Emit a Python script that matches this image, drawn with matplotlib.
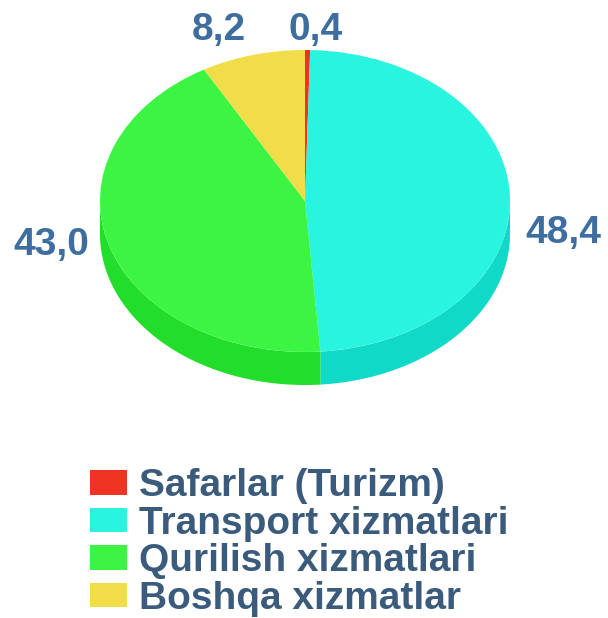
import matplotlib.pyplot as plt
import numpy as np

plt.rcParams['font.family'] = ['Liberation Sans', 'DejaVu Sans']

# data
categories = ['Safarlar (Turizm)', 'Transport xizmatlari',
              'Qurilish xizmatlari', 'Boshqa xizmatlar']
values = [0.4, 48.4, 43.0, 8.2]
value_labels = ['0,4', '48,4', '43,0', '8,2']

top_colors = ['#ee3322', '#28f4e0', '#3cf542', '#f0dd48']
side_colors = ['#c42a1c', '#10d9c8', '#22dd2a', '#cdbb30']

W, H = 608, 618
cx, cy = 305, 201      # pie center (px, from top)
rx, ry = 205, 151      # ellipse radii (px)
depth = 33 / ry        # side height in y units

fig = plt.figure(figsize=(W / 100, H / 100), dpi=100)
ax = fig.add_axes([0, 0, 1, 1])

wedges, _ = ax.pie(values, colors=top_colors, startangle=90,
                   counterclock=False, wedgeprops=dict(linewidth=0))
for w in wedges:
    w.set_zorder(3)

# 3d side walls on the visible front half
for w, col in zip(wedges, side_colors):
    for k in (-360, 0, 360):
        a = max(w.theta1, -180 + k)
        b = min(w.theta2, 0 + k)
        if b <= a:
            continue
        t = np.radians(np.linspace(a, b, 100))
        xs = np.concatenate([np.cos(t), np.cos(t[::-1])])
        ys = np.concatenate([np.sin(t), np.sin(t[::-1]) - depth])
        ax.fill(xs, ys, color=col, lw=0, zorder=2)

ax.set_aspect('auto')
ax.set_xlim(-cx / rx, (W - cx) / rx)
ax.set_ylim(-(H - cy) / ry, cy / ry)
ax.axis('off')

# value labels (x centre, baseline in px)
label_pos = [(316, 40), (563, 243), (51, 255), (219, 40)]
for txt, (px, py) in zip(value_labels, label_pos):
    ax.text((px - cx) / rx, (cy - py) / ry, txt, ha='center', va='baseline',
            fontsize=28, fontweight='bold', color='#3e6e9f', zorder=5)

leg = fig.legend(wedges, categories, loc='upper left',
                 bbox_to_anchor=(90 / W, 1 - 468 / H), frameon=False,
                 prop=dict(weight='bold', size=28),
                 handlelength=0.95, handleheight=0.59, handletextpad=0.32,
                 labelspacing=0.04, borderpad=0, borderaxespad=0)
for t in leg.get_texts():
    t.set_color('#3b5b7c')

fig.savefig('out.png', dpi=100)
